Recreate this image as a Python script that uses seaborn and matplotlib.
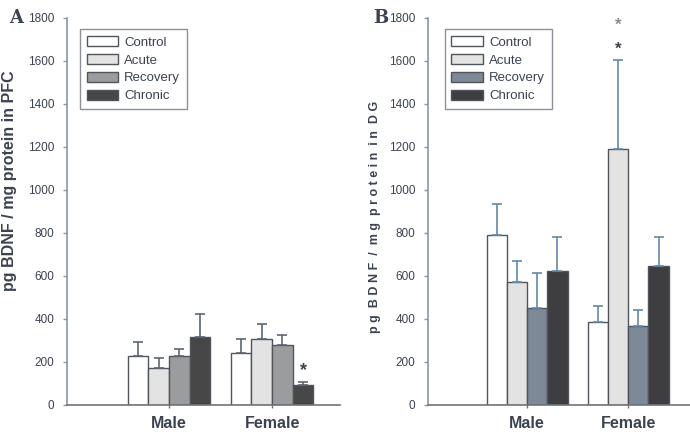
import matplotlib
matplotlib.use("Agg")
import matplotlib.pyplot as plt
import seaborn as sns
import pandas as pd
import numpy as np

sexes = ["Male", "Female"]
groups = ["Control", "Acute", "Recovery", "Chronic"]

# Panel A: PFC (mean, upper error-bar end)
pfc_male = [227, 173, 227, 315]
pfc_female = [240, 306, 278, 93]
pfc_male_err = [294, 219, 260, 422]
pfc_female_err = [306, 376, 325, 108]

# Panel B: DG
dg_male = [789, 573, 450, 624]
dg_female = [384, 1189, 368, 647]
dg_male_err = [933, 670, 613, 782]
dg_female_err = [458, 1602, 441, 782]

yticks = [0, 200, 400, 600, 800, 1000, 1200, 1400, 1600, 1800]

sns.set_theme(style="white")
plt.rcParams['font.family'] = ['Liberation Sans Narrow', 'Liberation Sans', 'DejaVu Sans']

text_col = "#3b4250"
axis_col = "#8c97a3"

colors_a = ["#ffffff", "#e3e3e3", "#9b9c9e", "#474747"]
colors_b = ["#ffffff", "#e3e3e3", "#7d8996", "#3e3e40"]


def make_df(male, female):
    rows = []
    for s, vals in zip(sexes, [male, female]):
        for g, v in zip(groups, vals):
            rows.append({"sex": s, "group": g, "value": v})
    return pd.DataFrame(rows)


def draw(ax, male, female, male_top, female_top, colors, ylabel, letter, xlim, err_col,
         ylabel_kw, label_xy, leg_x):
    df = make_df(male, female)
    sns.barplot(data=df, x="sex", y="value", hue="group", order=sexes, hue_order=groups,
                palette=colors, errorbar=None, width=0.8, edgecolor="#50555b", linewidth=1.0,
                ax=ax, legend=True, saturation=1)
    bar_conts = list(ax.containers)
    tops = [male_top, female_top]
    means = [male, female]
    for hi, cont in enumerate(bar_conts):
        for ci, bar in enumerate(cont):
            x = bar.get_x() + bar.get_width() / 2
            m = means[ci][hi]
            t = tops[ci][hi]
            ax.errorbar([x], [m], yerr=[[0], [t - m]], fmt="none", ecolor=err_col,
                        elinewidth=1.2, capsize=3.5, capthick=1.2, zorder=3)
    ax.set_ylim(0, 1800)
    ax.set_xlim(*xlim)
    ax.set_yticks(yticks)
    ax.set_yticklabels([str(v) for v in yticks], fontsize=8.5, color=text_col)
    ax.set_xticks([0, 1])
    ax.set_xticklabels(sexes, fontsize=11.5, fontweight="bold", color=text_col)
    ax.set_xlabel("")
    ax.set_ylabel(ylabel, color=text_col, **ylabel_kw)
    ax.yaxis.set_label_coords(*label_xy)
    for s in ["top", "right"]:
        ax.spines[s].set_visible(False)
    ax.spines["left"].set_color(axis_col)
    ax.spines["bottom"].set_color("#6f7378")
    ax.spines["left"].set_linewidth(1.2)
    ax.spines["bottom"].set_linewidth(1.2)
    ax.tick_params(axis="y", left=True, length=3, width=1, color=axis_col, pad=6)
    ax.tick_params(axis="x", bottom=True, length=4, width=1, color="#6f7378", pad=6, direction="inout")
    leg = ax.legend(loc="upper left", bbox_to_anchor=(leg_x, 0.97), fontsize=9.5, frameon=True,
                    fancybox=False, edgecolor="#6f7680", handlelength=2.4, handleheight=0.8,
                    labelspacing=0.4, borderpad=0.5, handletextpad=0.45, borderaxespad=0)
    for t in leg.get_texts():
        t.set_color(text_col)
    leg.get_frame().set_linewidth(1.0)
    ax.text(-0.21, 1.0, letter, transform=ax.transAxes, fontsize=13, fontweight="bold",
            family="DejaVu Serif", color=text_col, ha="left", va="center")
    return bar_conts


fig = plt.figure(figsize=(6.9, 4.34), dpi=100)
axA = fig.add_axes([0.097, 0.067, 0.396, 0.892])
axB = fig.add_axes([0.620, 0.067, 0.380, 0.892])

contA = draw(axA, pfc_male, pfc_female, pfc_male_err, pfc_female_err, colors_a,
             "pg BDNF / mg protein in PFC", "A", (-0.99, 1.66), "#5c6674",
             dict(fontsize=11.5, fontweight="bold", family=["Liberation Sans", "DejaVu Sans"]),
             (-0.183, 0.58), 0.048)
contB = draw(axB, dg_male, dg_female, dg_male_err, dg_female_err, colors_b,
             "p g  B D N F  /  m g  p r o t e i n  i n  D G", "B", (-0.98, 1.61), "#6389ab",
             dict(fontsize=9, fontweight="bold", family=["Liberation Sans", "DejaVu Sans"]),
             (-0.18, 0.485), 0.065)

# significance stars
bA = contA[3][1]
axA.text(bA.get_x() + bA.get_width() / 2, 120, "*", ha="center", va="bottom",
         fontsize=13, fontweight="bold", color=text_col)
bB = contB[1][1]
axB.text(bB.get_x() + bB.get_width() / 2, 1620, "*", ha="center", va="bottom",
         fontsize=12, fontweight="bold", color=text_col)
axB.text(bB.get_x() + bB.get_width() / 2, 1730, "*", ha="center", va="bottom",
         fontsize=12, fontweight="bold", color="#8a8d92")

fig.savefig("out.png", dpi=100)
